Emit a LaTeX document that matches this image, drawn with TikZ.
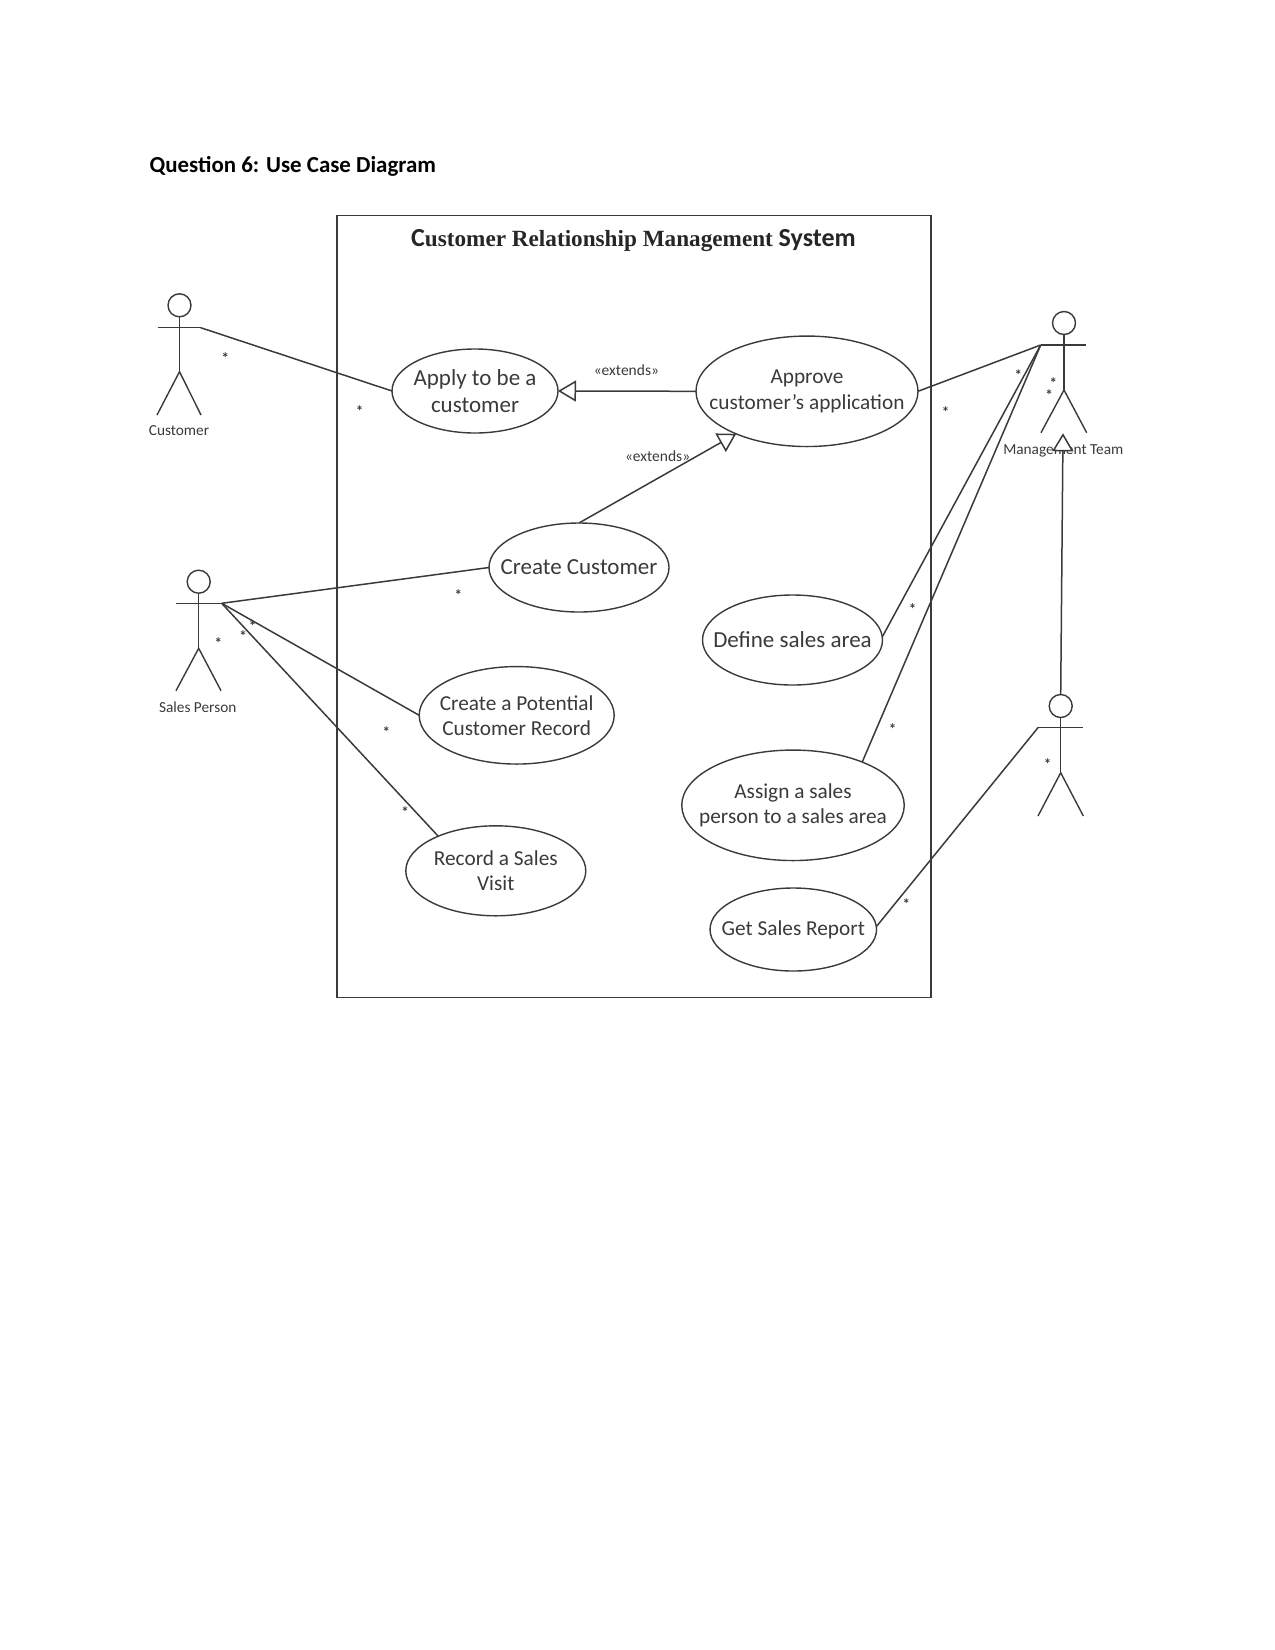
\documentclass[tikz,border=0pt]{standalone}
\usepackage{fontspec}
\setmainfont{Carlito}
\newfontfamily\titlefont{Liberation Serif}
\usetikzlibrary{arrows.meta, shapes.geometric}
\definecolor{ink}{HTML}{3A3A3A}
\begin{document}
\begin{tikzpicture}[
    x=1pt, y=-1pt,
    usecase/.style={ellipse, draw=ink, line width=1.4pt, inner xsep=-60pt, inner ysep=-20pt, outer sep=0pt, align=center,
      text=ink, font=\fontsize{21.3}{25}\selectfont},
    bigcase/.style={usecase, font=\fontsize{23}{27}\selectfont},
    head/.style={circle, draw=ink, line width=1.4pt, inner sep=0pt, outer sep=0pt, minimum size=23pt},
    edge/.style={draw=ink, line width=1.5pt},
    limb/.style={draw=ink, line width=1.4pt},
    extend/.style={draw=ink, line width=1.5pt, -{Triangle[open, fill=white, length=18pt, width=21pt]}},
    actorname/.style={text=ink, font=\fontsize{15.3}{18}\selectfont, inner sep=0pt},
    stereo/.style={text=ink, font=\fontsize{15.5}{18}\selectfont, inner sep=0pt},
    mult/.style={text=ink, font=\fontsize{15}{15}\selectfont\bfseries, inner sep=0pt, anchor=north, yshift=2.5pt}]

    \useasboundingbox (0,0) rectangle (1275,1650);

    \node[anchor=west, inner sep=0pt, font=\fontsize{22.9}{27}\selectfont\bfseries] (heading) at (149.5,166) {Question 6: Use Case Diagram};

    % system boundary
    \node[draw=ink, line width=1.7pt, inner sep=0pt, outer sep=0pt, minimum width=594pt, minimum height=782pt] (system) at (634,606.5) {};
    \node[inner sep=0pt, text=black!85] (title) at (633.5,241) {\titlefont\bfseries\fontsize{23.2}{26}\selectfont{\rmfamily\fontsize{26}{26}\selectfont C}ustomer Relationship Management {\rmfamily\fontsize{26}{26}\selectfont System}};

    % use cases
    \node[bigcase, minimum width=166pt, minimum height=84pt] (apply) at (475,391) {Apply to be a\\customer};
    \node[usecase, minimum width=222pt, minimum height=110.5pt] (approve) at (807,391.3) {Approve\\[0.5pt]customer’s application};
    \node[bigcase, minimum width=180pt, minimum height=89pt] (create) at (579,567.5) {Create Customer};
    \node[usecase, minimum width=195pt, minimum height=97.5pt] (potential) at (516.7,715.3) {Create a Potential\\Customer Record};
    \node[usecase, minimum width=180pt, minimum height=90pt] (record) at (495.8,870.8) {Record a Sales\\Visit};
    \node[bigcase, minimum width=180pt, minimum height=90pt] (define) at (792.5,640) {Define sales area};
    \node[usecase, minimum width=222.5pt, minimum height=110.5pt] (assign) at (793,805.3) {Assign a sales\\person to a sales area};
    \node[usecase, minimum width=166.5pt, minimum height=83pt] (report) at (793.3,929.5) {Get Sales Report};

    % customer
    \node[head] (cust) at (179.5,305.3) {};
    \coordinate (custl) at (157.5,327.7);
    \coordinate (custr) at (200.7,327.7);
    \coordinate (custhip) at (179.5,371.7);
    \draw[limb] (cust)--(custhip);
    \draw[limb] (custl)--(custr);
    \coordinate (custf1) at (157,415);
    \coordinate (custf2) at (201,415);
    \draw[limb] (custf1)--(custhip)--(custf2);
    \node[actorname] (custname) at (179,431) {Customer};

    % sales person
    \node[head] (sales) at (198.7,581.7) {};
    \coordinate (salesl) at (176,603.3);
    \coordinate (salesr) at (221.7,603.3);
    \coordinate (saleship) at (198.7,648.3);
    \draw[limb] (sales)--(saleship);
    \draw[limb] (salesl)--(salesr);
    \coordinate (salesf1) at (176,690.7);
    \coordinate (salesf2) at (221,690.7);
    \draw[limb] (salesf1)--(saleship)--(salesf2);
    \node[actorname] (salesname) at (197.7,707.5) {Sales Person};

    % management team
    \node[head] (mgmt) at (1064,323) {};
    \coordinate (mgmtl) at (1040.7,345);
    \coordinate (mgmtr) at (1086,345);
    \coordinate (mgmthip) at (1064,390);
    \draw[limb] (mgmt)--(mgmthip);
    \draw[limb] (mgmtl)--(mgmtr);
    \coordinate (mgmtf1) at (1041,432.7);
    \coordinate (mgmtf2) at (1086.7,432.7);
    \draw[limb] (mgmtf1)--(mgmthip)--(mgmtf2);
    \node[actorname] (mgmtname) at (1063.3,451) {Management Team};
    \coordinate (mgmttip) at (1063,433.3);

    % unnamed actor under it
    \node[head] (boss) at (1060.7,706) {};
    \coordinate (bossl) at (1038.3,727.3);
    \coordinate (bossr) at (1083.3,727.3);
    \coordinate (bosship) at (1060.7,772.7);
    \draw[limb] (boss)--(bosship);
    \draw[limb] (bossl)--(bossr);
    \coordinate (bossf1) at (1038,816);
    \coordinate (bossf2) at (1083.3,816);
    \draw[limb] (bossf1)--(bosship)--(bossf2);

    % associations
    \draw[edge] (custr)--(apply.west);
    \draw[edge] (salesr)--(create.west);
    \draw[edge] (salesr)--(potential.west);
    \draw[edge] (salesr)--(record.149);
    \draw[edge] (mgmtl)--(approve.east);
    \draw[edge] (mgmtl)--(define.2);
    \draw[edge] (mgmtl)--(assign.32);
    \draw[edge] (bossl)--(report.2);

    % extends and generalisation
    \draw[extend] (approve.west)--(apply.east);
    \draw[extend] (create.north)--(approve.211);
    \draw[extend] (boss.north)--(mgmttip);
    \node[stereo] (ext1) at (626.4,370) {«extends»};
    \node[stereo] (ext2) at (657.6,456) {«extends»};

    % multiplicities
    \node[mult] (m1) at (225.4,354.7) {*};
    \node[mult] (m2) at (359.6,408) {*};
    \node[mult] (m3) at (1018.3,372) {*};
    \node[mult] (m4) at (1053.3,380.3) {*};
    \node[mult] (m5) at (1049,392) {*};
    \node[mult] (m6) at (945.7,409) {*};
    \node[mult] (m7) at (912.7,606) {*};
    \node[mult] (m8) at (458.3,592) {*};
    \node[mult] (m9) at (218.3,640.3) {*};
    \node[mult] (m10) at (243,633) {*};
    \node[mult] (m11) at (252.7,623) {*};
    \node[mult] (m12) at (386.3,729) {*};
    \node[mult] (m13) at (405,809) {*};
    \node[mult] (m14) at (892.7,725.7) {*};
    \node[mult] (m15) at (1047.7,760.7) {*};
    \node[mult] (m16) at (906.3,901.3) {*};
  \end{tikzpicture}
\end{document}
